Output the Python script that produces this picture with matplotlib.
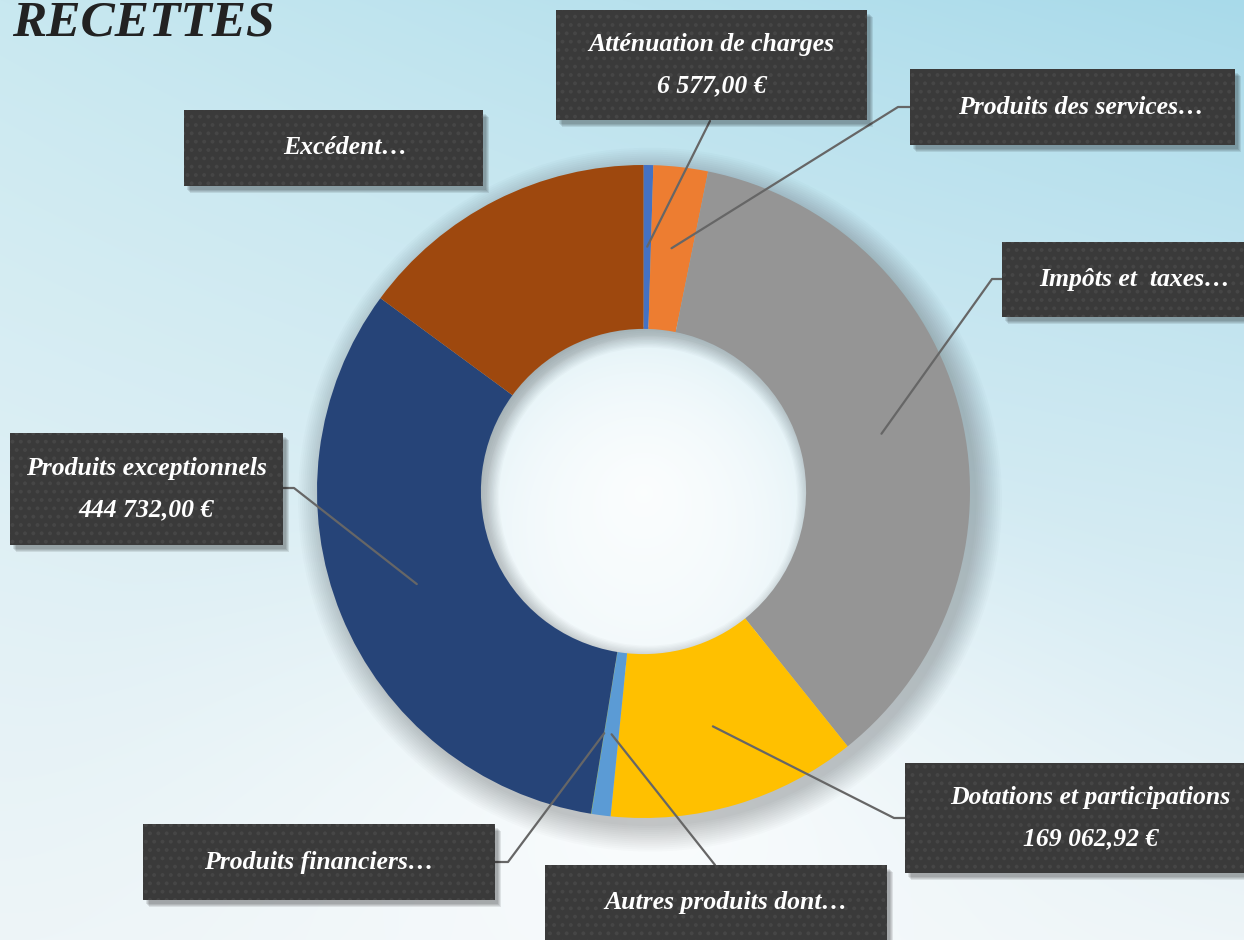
import numpy as np
import matplotlib
matplotlib.use("Agg")
import matplotlib.pyplot as plt
from matplotlib.patches import Rectangle, Wedge

# ---------------- data ----------------
categories = ["Atténuation de charges", "Produits des services", "Impôts et  taxes",
              "Dotations et participations", "Autres produits dont", "Produits financiers",
              "Produits exceptionnels", "Excédent"]
values = [6577.00, 36800.0, 493500.0, 169062.92, 12900.0, 300.0, 444732.00, 204000.0]
show_value = [True, False, False, True, False, False, True, False]
colors = ["#4472C4", "#ED7D31", "#959595", "#FFC000", "#5B9BD5", "#70AD47", "#264478", "#9E480E"]
title = "RECETTES"

def fr_euro(v):
    s = f"{v:,.2f}"
    ent, dec = s.split(".")
    return ent.replace(",", " ") + "," + dec + " €"

labels = [(c + "\n" + fr_euro(v)) if sv else (c + "…")
          for c, v, sv in zip(categories, values, show_value)]

# ---------------- layout (pixels) ----------------
W, H = 1244, 940
cx, cy, R = 643.5, 491.5, 326.5
boxes = [(556, 10, 867, 120), (910, 69, 1235, 145), (1002, 242, 1272, 317),
         (905, 763, 1278, 873), (545, 865, 887, 960), (143, 824, 495, 900),
         (10, 433, 283, 545), (184, 110, 483, 186)]
text_dx = [0, 8, 12, 16, 10, 0, 0, 12]
starts = [(710, 121), (910, 107), (1002, 279), (905, 818), (715, 865), (495, 862), (283, 488), None]
elbows = [None, (898, 107), (992, 279), (894, 818), None, (508, 862), (294, 488), None]

fig = plt.figure(figsize=(W / 100, H / 100), dpi=100)

# background gradient
yy, xx = np.mgrid[0:H, 0:W]
t = yy / H
top_l = np.array([200, 232, 240]) / 255
top_r = np.array([168, 218, 234]) / 255
bot = np.array([238, 245, 248]) / 255
s = (xx / W)[..., None]
top = top_l * (1 - s) + top_r * s
tt = (t ** 0.9)[..., None]
img = top * (1 - tt) + bot * tt
rad = np.sqrt(((xx - 650) / 650) ** 2 + ((yy - 820) / 420) ** 2)
glow = np.clip(1 - rad, 0, 1)[..., None] ** 1.5
img = img * (1 - 0.8 * glow) + 0.8 * glow
radh = np.sqrt((xx - cx) ** 2 + (yy - cy) ** 2) / 170
hole = np.clip(1 - radh, 0, 1)[..., None] ** 0.3
img = img * (1 - 0.9 * hole) + 0.9 * hole
ax_bg = fig.add_axes([0, 0, 1, 1])
ax_bg.imshow(np.clip(img, 0, 1), extent=[0, W, H, 0], aspect="auto")
ax_bg.axis("off")

# donut
ax_pie = fig.add_axes([(cx - R) / W, (H - cy - R) / H, 2 * R / W, 2 * R / H])
ax_pie.patch.set_alpha(0)
for i in range(14):
    ax_pie.add_patch(Wedge((0.02, -0.025), 1.0 + 0.006 * i, 0, 360, width=0.5,
                           color="black", alpha=0.016, lw=0, zorder=0, clip_on=False))
wedges, _ = ax_pie.pie(values, colors=colors, startangle=90, counterclock=False,
                       radius=1, wedgeprops=dict(width=0.502, linewidth=0))
for w in wedges:
    w.set_zorder(2)
    w.set_clip_on(False)
# inner shadow inside the hole (cast towards bottom-right)
for i in range(10):
    ax_pie.add_patch(Wedge((0.014, -0.016), 0.52, 0, 360, width=0.024 + 0.004 * (i + 1),
                           color="black", alpha=0.02, lw=0, zorder=1, clip_on=False))
ax_pie.set_xlim(-1, 1)
ax_pie.set_ylim(-1, 1)
ax_pie.set_aspect("equal")
ax_pie.axis("off")

# overlay in pixel coords
ax = fig.add_axes([0, 0, 1, 1])
ax.set_xlim(0, W)
ax.set_ylim(H, 0)
ax.patch.set_alpha(0)
ax.axis("off")

plt.rcParams["hatch.linewidth"] = 1.6
for i, (w, lab) in enumerate(zip(wedges, labels)):
    mid = np.deg2rad((w.theta1 + w.theta2) / 2)
    p = ax_pie.transData.transform((0.75 * np.cos(mid), 0.75 * np.sin(mid)))
    ax_pt = ax.transData.inverted().transform(p)
    if starts[i] is not None:
        pts = [starts[i]]
        if elbows[i] is not None:
            pts.append(elbows[i])
        pts.append(tuple(ax_pt))
        xs, ys = zip(*pts)
        ax.plot(xs, ys, color="#666666", lw=1.6, zorder=3, solid_capstyle="round")
    x0, y0, x1, y1 = boxes[i]
    for k in range(4):
        ax.add_patch(Rectangle((x0 + 3 + k, y0 + 4 + k), x1 - x0, y1 - y0,
                               facecolor="black", alpha=0.09, lw=0, zorder=4))
    ax.add_patch(Rectangle((x0, y0), x1 - x0, y1 - y0, facecolor="#3a3a3a",
                           lw=0, zorder=5))
    ax.add_patch(Rectangle((x0, y0), x1 - x0, y1 - y0, facecolor="none",
                           edgecolor="#464646", hatch="..", lw=0, zorder=5.5))
    xc = (x0 + min(x1, W)) / 2 + text_dx[i]
    yc = (y0 + min(y1, H)) / 2
    ax.text(xc, yc, lab, ha="center", va="center", color="white",
            fontsize=18.5, fontstyle="italic", fontweight="bold",
            family=["Liberation Serif", "DejaVu Serif"], linespacing=2.0, zorder=6)

ax.text(12, 23, title, ha="left", va="center", color="#222222", fontsize=37,
        fontstyle="italic", fontweight="bold", family=["Liberation Serif", "DejaVu Serif"],
        zorder=6)

fig.savefig("out.png", dpi=100)
